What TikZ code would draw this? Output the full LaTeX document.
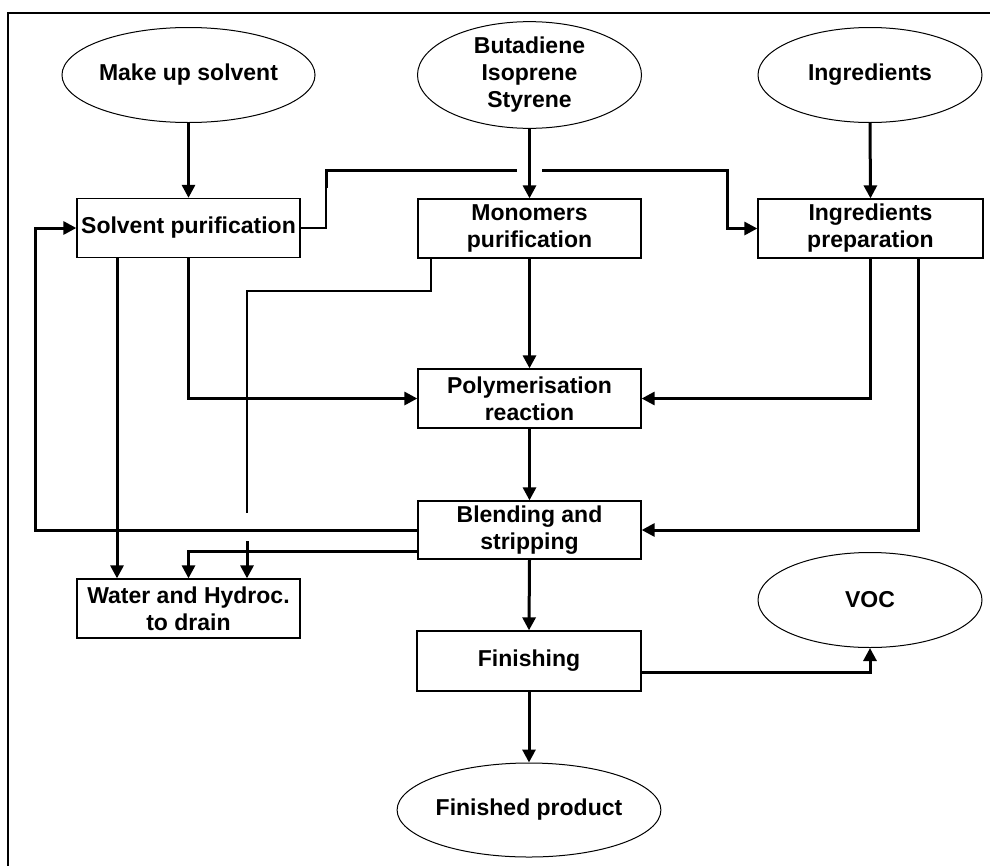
\documentclass[tikz,border=0pt]{standalone}
\usepackage{fontspec}
\setmainfont{Liberation Sans}
\usetikzlibrary{arrows.meta,shapes.geometric}
\begin{document}
\begin{tikzpicture}[x=1pt,y=-1pt,
  every node/.style={font=\fontsize{23}{27}\selectfont\bfseries, align=center, inner sep=0pt},
  procbox/.style={draw, line width=1.3pt, rectangle, minimum width=223pt, minimum height=59pt},
  srcell/.style={draw, line width=1pt, ellipse, minimum width=224pt, minimum height=95pt},
  flow/.style={line width=3pt},
  thinflow/.style={line width=1.5pt},
  arr/.style={line width=3pt, -{Triangle[length=13pt,width=13pt]}}
]
\useasboundingbox (0,0) rectangle (990,865);
% frame
\coordinate (f1) at (990,13);
\coordinate (f2) at (8,13);
\coordinate (f3) at (8,866);
\draw[line width=2.5pt] (f1) -- (f2) -- (f3);

% sources
\node[srcell] (mus) at (188.5,75) {Make up solvent};
\node[srcell] (bis) at (529.5,75) {Butadiene\\Isoprene\\Styrene};
\node[srcell] (ing) at (870,75) {Ingredients};

% process boxes
\node[procbox] (sp) at (188.5,228) {Solvent purification};
\node[procbox] (mon) at (529.5,228.5) {Monomers\\purification};
\node[procbox, minimum width=225pt] (ip) at (870.5,228.5) {Ingredients\\preparation};
\node[procbox] (poly) at (529.5,398.5) {Polymerisation\\reaction};
\node[procbox, minimum height=58pt] (blend) at (529.5,530) {Blending and\\stripping};
\node[procbox] (water) at (188.5,608.5) {Water and Hydroc.\\to drain};
\node[procbox, minimum width=224pt, minimum height=60pt] (fin) at (529,661) {Finishing};

% sinks
\node[srcell] (voc) at (870,600) {VOC};
\node[srcell, minimum height=94pt] (fp) at (529,810) {Finished product};

% helper coordinates
\coordinate (cA) at (117,0);
\coordinate (cD) at (918,0);
\coordinate (cL) at (35,0);
\coordinate (t1) at (326,188);
\coordinate (t2) at (326,170);
\coordinate (g1) at (517,170);
\coordinate (g2) at (542,170);
\coordinate (t3) at (727,170);
\coordinate (bw2) at (418,551);
\coordinate (m1) at (431,291);
\coordinate (m2) at (247,291);
\coordinate (m3) at (247,513);
\coordinate (m4) at (247,541);
\coordinate (vc) at (870,672);

% feeds
\draw[arr] (mus.south) -- (sp.north);
\draw[arr] (bis.south) -- (mon.north);
\draw[arr] (ing.south) -- (ip.north);

% solvent to ingredients preparation (jump over monomer feed)
\draw[thinflow] (sp.east) -| (t1);
\draw[flow] (t1) -- (t2) -- (g1);
\draw[arr] (g2) -- (t3) |- (ip.west);

% solvent purification outputs
\draw[arr] (sp.south -| cA) -- (water.north -| cA);
\draw[arr] (sp.south) |- (poly.west);

% monomers
\draw[arr] (mon.south) -- (poly.north);
\draw[thinflow] (mon.south -| m1) -- (m1) -- (m2) -- (m3);
\draw[arr] (m4) -- (water.north -| m4);

% ingredients preparation outputs
\draw[arr] (ip.south) |- (poly.east);
\draw[arr] (ip.south -| cD) |- (blend.east);

% main line
\draw[arr] (poly.south) -- (blend.north);
\draw[arr] (blend.west) -- (blend.west -| cL) -- (sp.west -| cL) -- (sp.west);
\draw[arr] (bw2) -| (water.north);
\draw[arr] (blend.south) -- (fin.north);
\draw[arr] (fin.south) -- (fp.north);
\draw[arr] (fin.east |- vc) -- (vc) -- (voc.south);
\end{tikzpicture}
\end{document}
